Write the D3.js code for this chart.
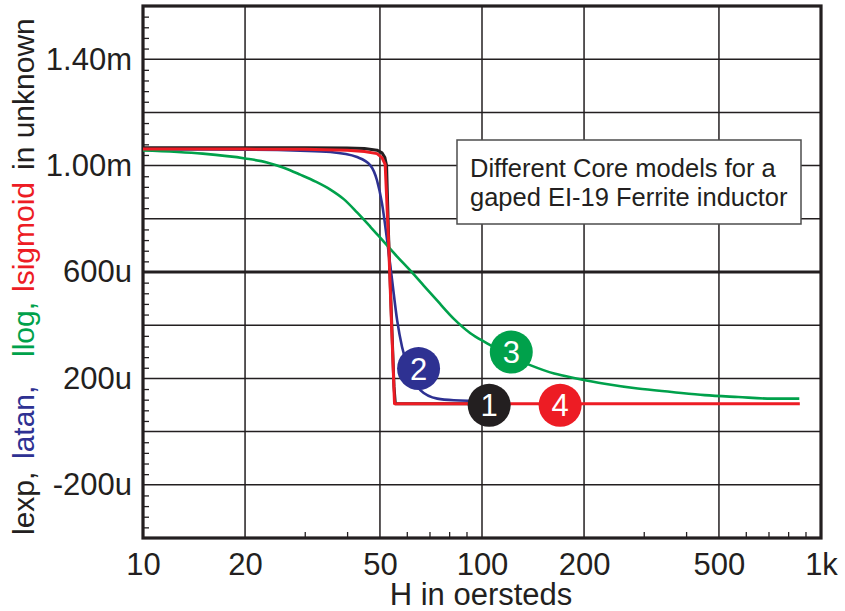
<!DOCTYPE html>
<html>
<head>
<meta charset="utf-8">
<script src="https://cdn.jsdelivr.net/npm/d3@7"></script>
<style>
  html, body { margin: 0; padding: 0; background: #fff; }
  svg { display: block; font-family: "Liberation Sans", Arial, Helvetica, sans-serif; }
</style>
</head>
<body>
<svg id="chart" width="845" height="611"></svg>
<script>
// ---------------- data (H in oersteds, inductance in micro-henry) ----------------
const xTickValues = [10, 20, 50, 100, 200, 500, 1000];
const xTickLabels = ["10", "20", "50", "100", "200", "500", "1k"];
const xGridValues = [20, 50, 100, 200, 500];
const xMinorTicks = [30, 40, 60, 70, 80, 90, 300, 400, 600, 700, 800, 900];

const yGridValues = [-200, 0, 200, 400, 600, 800, 1000, 1200, 1400];
const yTickValues = [-200, 200, 600, 1000, 1400];
const yTickLabels = ["-200u", "200u", "600u", "1.00m", "1.40m"];

// 1: lexp (black)
const lexpH = [10, 20, 30, 40, 45, 49, 50.7, 51.7, 52.3, 53, 54, 55, 55.5, 70, 104];
const lexpL = [1067, 1067, 1067, 1066, 1064, 1058, 1048, 1030, 1000, 740, 450, 170, 105, 105, 105];
// 2: latan (blue)
const latanH = [10, 20, 29.1, 35.7, 42.8, 46.85, 49.0, 50.7, 52.5, 54.3, 56.2, 58.1, 61, 65.9, 73.8, 82.6, 103.8];
const latanL = [1061, 1060, 1056, 1051, 1032, 1001, 945, 858, 719, 569, 418, 318, 230, 155, 124, 118, 115];
// 3: llog (green)
const llogH = [10, 15, 20, 23.2, 26, 29.1, 32.3, 35.7, 39.1, 42.8, 46.85, 51.3, 56.2, 61.6, 67.4, 73.8, 82.6, 92.4, 103.8, 120, 139.3, 163.3, 191.5, 230, 288, 363, 454, 570, 715, 863];
const llogL = [1057, 1045, 1027, 1012, 992, 966, 940, 910, 874, 824, 770, 714, 658, 604, 548, 492, 424, 370, 331, 285, 249, 218, 199, 180, 162, 149, 137, 130, 124, 124];
// 4: lsigmoid (red)
const lsigH = [10, 20, 30, 40, 45, 49, 50.7, 51.8, 53, 54, 55.2, 100, 200, 500, 866];
const lsigL = [1062, 1062, 1061, 1058, 1053, 1045, 1030, 1005, 720, 430, 105, 105, 105, 105, 105];

// numbered markers
const markerLabels = ["1", "2", "3", "4"];
const markerH = [105, 65, 122, 170];
const markerL = [99, 237, 299, 99];

const titleParts = ["lexp,", "latan,", "llog,", "lsigmoid", "in unknown"];
const noteLines = ["Different Core models for a", "gaped EI-19 Ferrite inductor"];

// ---------------- drawing ----------------
const C = { black: "#231f20", blue: "#2e3192", green: "#00a14b", red: "#ed1c24" };
const svg = d3.select("#chart");
svg.append("rect").attr("width", 845).attr("height", 611).attr("fill", "#fff");

const L = 143, R = 821, T = 6, B = 538;
const x = d3.scaleLog().domain([10, 1000]).range([L, R]);
const y = d3.scaleLinear().domain([-400, 1600]).range([B, T]);

// grid lines
svg.append("g").selectAll("line").data(xGridValues).join("line")
  .attr("x1", d => x(d)).attr("x2", d => x(d)).attr("y1", T).attr("y2", B)
  .attr("stroke", C.black).attr("stroke-width", 1.5);
svg.append("g").selectAll("line").data(yGridValues).join("line")
  .attr("x1", L).attr("x2", R).attr("y1", d => y(d)).attr("y2", d => y(d))
  .attr("stroke", C.black).attr("stroke-width", d => d === 600 ? 3 : 1.5);

// minor ticks (inward)
const yMinor = d3.range(-400, 1600, 40).filter(v => v % 200 !== 0);
const gyMinor = svg.append("g").attr("transform", `translate(${L},0)`)
  .call(d3.axisLeft(y).tickValues(yMinor).tickSize(-6).tickFormat(""));
gyMinor.select(".domain").remove();
gyMinor.selectAll("line").attr("stroke", C.black).attr("stroke-width", 1.3);

const gxMinor = svg.append("g").attr("transform", `translate(0,${B})`)
  .call(d3.axisBottom(x).tickValues(xMinorTicks).tickSize(-6).tickFormat(""));
gxMinor.select(".domain").remove();
gxMinor.selectAll("line").attr("stroke", C.black).attr("stroke-width", 1.3);

// frame
svg.append("rect").attr("x", L).attr("y", T).attr("width", R - L).attr("height", B - T)
  .attr("fill", "none").attr("stroke", C.black).attr("stroke-width", 3.2);

// axis labels
const gx = svg.append("g").attr("transform", `translate(0,${B})`)
  .call(d3.axisBottom(x).tickValues(xTickValues).tickSize(0).tickPadding(15)
    .tickFormat((d, i) => xTickLabels[i]));
gx.select(".domain").remove();
gx.selectAll("text").attr("font-size", 31).attr("fill", C.black)
  .attr("font-family", "'Liberation Sans', Arial, sans-serif");

const gy = svg.append("g").attr("transform", `translate(${L},0)`)
  .call(d3.axisLeft(y).tickValues(yTickValues).tickSize(0).tickPadding(11)
    .tickFormat((d, i) => yTickLabels[i]));
gy.select(".domain").remove();
gy.selectAll("text").attr("font-size", 31).attr("fill", C.black)
  .attr("font-family", "'Liberation Sans', Arial, sans-serif");

// x title
svg.append("text").attr("x", 481).attr("y", 605).attr("text-anchor", "middle")
  .attr("font-size", 31).attr("fill", C.black).text("H in oersteds");

// y title (coloured parts)
const titleColors = [C.black, C.blue, C.green, C.red, C.black];
const titleStarts = [535, 459, 357, 292, 170];
titleParts.forEach((t, i) => {
  svg.append("text")
    .attr("transform", `translate(34,${titleStarts[i]}) rotate(-90)`)
    .attr("font-size", 30).attr("fill", titleColors[i]).text(t);
});

// series lines
const smooth = d3.line().x(d => x(d[0])).y(d => y(d[1])).curve(d3.curveMonotoneX);
const straight = d3.line().x(d => x(d[0])).y(d => y(d[1]));
const series = [
  { H: lexpH, V: lexpL, color: C.black, w: 3, gen: straight },
  { H: latanH, V: latanL, color: C.blue, w: 2.6, gen: smooth },
  { H: llogH, V: llogL, color: C.green, w: 2.6, gen: smooth },
  { H: lsigH, V: lsigL, color: C.red, w: 3, gen: straight }
];
series.forEach(s => {
  svg.append("path").datum(s.H.map((h, i) => [h, s.V[i]]))
    .attr("d", s.gen).attr("fill", "none").attr("stroke", s.color)
    .attr("stroke-width", s.w).attr("stroke-linejoin", "round");
});

// annotation box
svg.append("rect").attr("x", 457).attr("y", 140).attr("width", 344).attr("height", 84)
  .attr("fill", "#fff").attr("stroke", "#4d4d4d").attr("stroke-width", 1.5);
noteLines.forEach((t, i) => {
  svg.append("text").attr("x", 470).attr("y", 177 + i * 29)
    .attr("font-size", 25.5).attr("fill", C.black).text(t);
});

// markers
const markerColors = [C.black, C.blue, C.green, C.red];
const mg = svg.append("g").selectAll("g").data(markerLabels).join("g")
  .attr("transform", (d, i) => `translate(${x(markerH[i])},${y(markerL[i])})`);
mg.append("circle").attr("r", 21.5).attr("fill", (d, i) => markerColors[i]);
mg.append("text").attr("text-anchor", "middle").attr("dy", "0.36em")
  .attr("font-size", 31).attr("fill", "#fff").text(d => d);
</script>
</body>
</html>
